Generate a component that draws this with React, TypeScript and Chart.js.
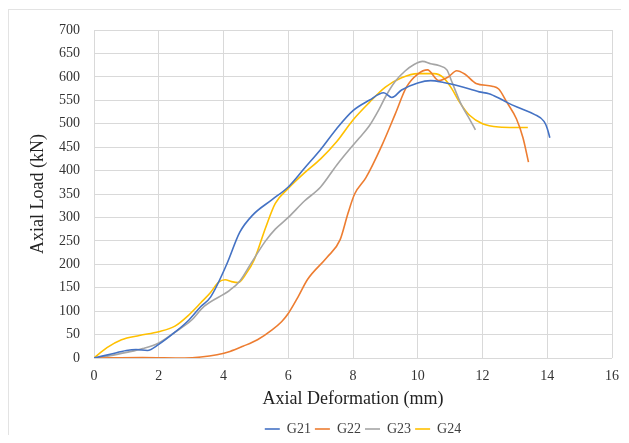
import React, { useEffect, useRef } from "react";
import { Chart, registerables } from "chart.js";

Chart.register(...registerables);

const seriesNames = ["G21", "G22", "G23", "G24"];
const seriesColors = ["#4472C4", "#ED7D31", "#A5A5A5", "#FFC000"];

const g21X = [0, 0.5, 1.0, 1.3, 1.65, 2.0, 2.5, 2.9, 3.3, 3.6, 4.1, 4.5, 4.9, 5.5, 6.0, 6.5, 7.0, 7.5, 8.0, 8.5, 8.95, 9.2, 9.5, 10.0, 10.4, 10.8, 11.3, 11.9, 12.2, 12.5, 12.8, 13.2, 13.6, 13.9, 14.0, 14.08];
const g21Y = [0, 8, 16, 18, 16, 29, 55, 79, 110, 130, 200, 268, 305, 338, 365, 405, 445, 490, 528, 550, 566, 556, 572, 587, 592, 588, 580, 568, 564, 555, 544, 532, 520, 505, 490, 470];

const g22X = [0, 1.5, 2.8, 3.3, 3.8, 4.2, 4.6, 5.05, 5.5, 5.8, 6.0, 6.3, 6.6, 7.2, 7.6, 7.85, 8.05, 8.4, 8.9, 9.3, 9.65, 10.0, 10.3, 10.65, 10.95, 11.2, 11.45, 11.8, 12.3, 12.5, 12.75, 13.05, 13.25, 13.42];
const g22Y = [0, 1, 0, 2, 7, 14, 25, 39, 60, 78, 95, 130, 168, 215, 252, 310, 350, 385, 455, 520, 578, 606, 615, 592, 600, 613, 606, 586, 580, 574, 546, 510, 470, 418];

const g23X = [0, 0.5, 1.0, 1.5, 2.0, 2.5, 3.0, 3.4, 4.2, 4.5, 4.85, 5.3, 5.6, 6.0, 6.5, 7.0, 7.5, 7.9, 8.2, 8.5, 8.8, 9.0, 9.3, 9.6, 9.9, 10.15, 10.4, 10.65, 10.9, 11.05, 11.35, 11.6, 11.78];
const g23Y = [0, 5, 12, 20, 32, 55, 80, 110, 145, 164, 202, 250, 275, 300, 335, 365, 412, 446, 470, 495, 530, 557, 590, 612, 627, 633, 628, 624, 615, 590, 540, 510, 487];

const g24X = [0, 0.4, 0.85, 1.4, 2.0, 2.5, 2.9, 3.3, 3.6, 3.85, 4.05, 4.25, 4.45, 4.7, 4.95, 5.3, 5.6, 6.0, 6.5, 7.0, 7.5, 8.0, 8.5, 9.0, 9.5, 10.0, 10.5, 10.8, 11.05, 11.3, 11.6, 12.0, 12.5, 13.0, 13.4];
const g24Y = [0, 22, 39, 48, 56, 68, 90, 118, 140, 162, 167, 163, 161, 180, 210, 278, 330, 362, 395, 425, 462, 508, 545, 578, 598, 607, 607, 598, 575, 545, 518, 500, 493, 492, 492];

const seriesX = [g21X, g22X, g23X, g24X];
const seriesY = [g21Y, g22Y, g23Y, g24Y];

const xMin = 0;
const xMax = 16;
const xStep = 2;
const yMin = 0;
const yMax = 700;
const yStep = 50;

const xTitle = "Axial Deformation (mm)";
const yTitle = "Axial Load (kN)";

const FONT = "'Liberation Serif', 'Times New Roman', serif";

const legendShift = {
  id: "legendShift",
  afterLayout(chart: any) {
    const l = chart.legend;
    if (l) {
      l.left += 52;
      l.right += 52;
    }
  },
};

export default function App() {
  const canvasRef = useRef<HTMLCanvasElement | null>(null);

  useEffect(() => {
    if (!canvasRef.current) return;
    const datasets = seriesNames.map((name, i) => ({
      label: name,
      data: seriesX[i].map((x, j) => ({ x, y: seriesY[i][j] })),
      borderColor: seriesColors[i],
      backgroundColor: seriesColors[i],
      borderWidth: 1.6,
      showLine: true,
      pointRadius: 0,
      pointHoverRadius: 0,
      pointStyle: "line" as const,
      cubicInterpolationMode: "monotone" as const,
      fill: false,
    }));

    const chart = new Chart(canvasRef.current, {
      type: "scatter",
      data: { datasets },
      plugins: [legendShift],
      options: {
        animation: false,
        responsive: false,
        maintainAspectRatio: false,
        layout: { padding: { left: 8, right: 15, top: 30, bottom: -3 } },
        plugins: {
          tooltip: { enabled: false },
          legend: {
            position: "bottom",
            labels: {
              usePointStyle: true,
              pointStyleWidth: 15,
              boxHeight: 14,
              padding: 4,
              color: "#404040",
              font: { family: FONT, size: 14 },
            },
          },
        },
        scales: {
          x: {
            type: "linear",
            min: xMin,
            max: xMax,
            ticks: {
              stepSize: xStep,
              color: "#333333",
              font: { family: FONT, size: 14 },
              padding: 10,
              maxRotation: 0,
            },
            grid: { color: "#d9d9d9", drawTicks: false, lineWidth: 1 },
            border: { display: false },
            title: {
              display: true,
              text: xTitle,
              color: "#222222",
              font: { family: FONT, size: 18 },
              padding: { top: 0, bottom: 8 },
            },
            afterFit: (scale: any) => {
              scale.height = 60;
            },
          },
          y: {
            type: "linear",
            min: yMin,
            max: yMax,
            ticks: {
              stepSize: yStep,
              color: "#333333",
              font: { family: FONT, size: 14 },
              padding: 14,
            },
            grid: { color: "#d9d9d9", drawTicks: false, lineWidth: 1 },
            border: { display: false },
            title: {
              display: true,
              text: yTitle,
              color: "#222222",
              font: { family: FONT, size: 18 },
              padding: { top: 19, bottom: 0 },
            },
            afterFit: (scale: any) => {
              scale.width = 86;
            },
          },
        },
      },
    });
    return () => chart.destroy();
  }, []);

  return (
    <div style={{ position: "relative", height: 427 }}>
      <div
        style={{
          position: "absolute",
          left: 0,
          top: 1,
          width: 621,
          height: 433,
          boxSizing: "border-box",
          borderLeft: "1px solid #e3e3e3",
          borderTop: "1px solid #e3e3e3",
          borderBottom: "1px solid #e3e3e3",
        }}
      />
      <canvas
        ref={canvasRef}
        width={629}
        height={443}
        style={{ position: "absolute", left: -8, top: -8, width: 629, height: 443 }}
      />
    </div>
  );
}
